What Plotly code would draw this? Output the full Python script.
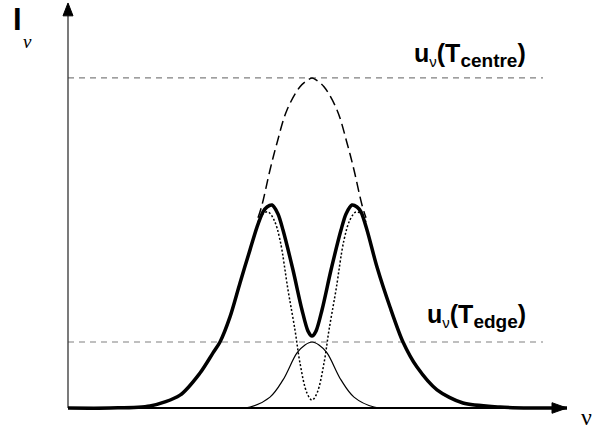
import plotly.graph_objects as go

# ---- data (x: frequency units, y: intensity, u(T_centre) = 1) ----
thick_x = [0.0, 0.84, 1.64, 2.24, 2.64, 2.9, 3.04, 3.24, 3.44, 3.64, 3.78, 3.9, 3.98, 4.08, 4.2, 4.3,
           4.5, 4.68, 4.8, 4.88, 4.96, 5.08, 5.26, 5.46, 5.56, 5.68, 5.78, 5.86, 5.98, 6.18, 6.44,
           6.7, 6.98, 7.38, 7.9, 8.64, 9.24, 9.98]
thick_y = [0.0, 0.0, 0.006, 0.039, 0.106, 0.167, 0.2, 0.276, 0.379, 0.479, 0.548, 0.594, 0.609, 0.615,
           0.588, 0.539, 0.418, 0.297, 0.233, 0.218, 0.233, 0.297, 0.418, 0.539, 0.588, 0.615, 0.609,
           0.594, 0.539, 0.427, 0.306, 0.2, 0.124, 0.055, 0.015, 0.003, 0.0, 0.0]

dotted_x = [3.8, 3.9, 4.0, 4.12, 4.24, 4.4, 4.54, 4.64, 4.78, 4.88, 4.98, 5.12, 5.22, 5.36, 5.52,
            5.64, 5.76, 5.86, 5.96]
dotted_y = [0.564, 0.588, 0.594, 0.570, 0.509, 0.358, 0.236, 0.136, 0.045, 0.024, 0.045, 0.136,
            0.236, 0.358, 0.509, 0.570, 0.594, 0.588, 0.564]

thin_x = [3.24, 3.64, 4.04, 4.3, 4.58, 4.74, 4.88, 5.02, 5.18, 5.46, 5.72, 6.12, 6.52]
thin_y = [0.0, 0.003, 0.033, 0.085, 0.167, 0.191, 0.2, 0.191, 0.167, 0.085, 0.033, 0.003, 0.0]

hot_x = [3.8, 3.88, 4.04, 4.18, 4.38, 4.64, 4.8, 4.88, 4.96, 5.12, 5.38, 5.58, 5.72, 5.88, 5.96]
hot_y = [0.576, 0.615, 0.721, 0.803, 0.903, 0.973, 0.994, 1.0, 0.994, 0.973, 0.903, 0.803, 0.721,
         0.615, 0.576]

u_centre = 1.0
u_edge = 0.2
ref_x_end = 9.5

label_centre = "<b>u<sub><span style='font-size:15px;font-weight:normal'>ν</span></sub>(T<sub><span style='font-size:19px'>centre</span></sub>)</b>"
label_edge = "<b>u<sub><span style='font-size:15px;font-weight:normal'>ν</span></sub>(T<sub><span style='font-size:19px'>edge</span></sub>)</b>"

# ---- axis geometry ----
x_min, x_max = -1.36, 10.5
y_min, y_max = -0.0515, 1.236
y_axis_top = 1.188
y_tip = 1.227
x_axis_end = 9.7
x_tip = 9.98

fig = go.Figure()

# reference levels
for lvl in (u_centre, u_edge):
    fig.add_trace(go.Scatter(x=[0, ref_x_end], y=[lvl, lvl], mode="lines",
                             line=dict(color="#808080", width=1.2, dash="6px,5px"),
                             hoverinfo="skip", showlegend=False))

# axes
fig.add_trace(go.Scatter(x=[0, 0], y=[0, y_axis_top], mode="lines",
                         line=dict(color="#333333", width=1.3), showlegend=False, hoverinfo="skip"))
fig.add_trace(go.Scatter(x=[-0.1, 0.1, 0, -0.1], y=[y_axis_top, y_axis_top, y_tip, y_axis_top],
                         mode="lines", fill="toself", fillcolor="black",
                         line=dict(color="black", width=1), showlegend=False, hoverinfo="skip"))
fig.add_trace(go.Scatter(x=[0, x_axis_end], y=[0, 0], mode="lines",
                         line=dict(color="black", width=2), showlegend=False, hoverinfo="skip"))
fig.add_trace(go.Scatter(x=[x_axis_end - 0.02, x_axis_end - 0.02, x_tip, x_axis_end - 0.02],
                         y=[-0.016, 0.016, 0, -0.016],
                         mode="lines", fill="toself", fillcolor="black",
                         line=dict(color="black", width=1), showlegend=False, hoverinfo="skip"))

# curves
fig.add_trace(go.Scatter(x=hot_x, y=hot_y, mode="lines", line_shape="spline",
                         line=dict(color="black", width=1.5, dash="10px,5px"),
                         showlegend=False, hoverinfo="skip"))
fig.add_trace(go.Scatter(x=thin_x, y=thin_y, mode="lines", line_shape="spline",
                         line=dict(color="black", width=1.2),
                         showlegend=False, hoverinfo="skip"))
fig.add_trace(go.Scatter(x=dotted_x, y=dotted_y, mode="lines", line_shape="spline",
                         line=dict(color="black", width=1.5, dash="2px,2px"),
                         showlegend=False, hoverinfo="skip"))
fig.add_trace(go.Scatter(x=thick_x, y=thick_y, mode="lines", line_shape="spline",
                         line=dict(color="black", width=3.5, smoothing=0.8),
                         showlegend=False, hoverinfo="skip"))

# labels
fig.add_annotation(x=-1.02, y=1.176, text="<b>I</b>", showarrow=False,
                   font=dict(family="Liberation Sans", size=31, color="black"))
fig.add_annotation(x=-0.82, y=1.109, text="<i>ν</i>", showarrow=False,
                   font=dict(family="Liberation Serif", size=19, color="black"))
fig.add_annotation(x=10.22, y=-0.027, text="ν", showarrow=False, xanchor="left",
                   font=dict(family="Liberation Serif", size=24, color="black"))
fig.add_annotation(x=9.2, y=1.07, text=label_centre, showarrow=False, xanchor="right",
                   font=dict(family="Liberation Sans", size=25, color="black"))
fig.add_annotation(x=9.2, y=0.28, text=label_edge, showarrow=False, xanchor="right",
                   font=dict(family="Liberation Sans", size=25, color="black"))

fig.update_layout(
    width=593, height=425,
    margin=dict(l=0, r=0, t=0, b=0),
    paper_bgcolor="white", plot_bgcolor="white",
    xaxis=dict(range=[x_min, x_max], visible=False, fixedrange=True),
    yaxis=dict(range=[y_min, y_max], visible=False, fixedrange=True),
    showlegend=False,
)

fig.write_html("out.html")
